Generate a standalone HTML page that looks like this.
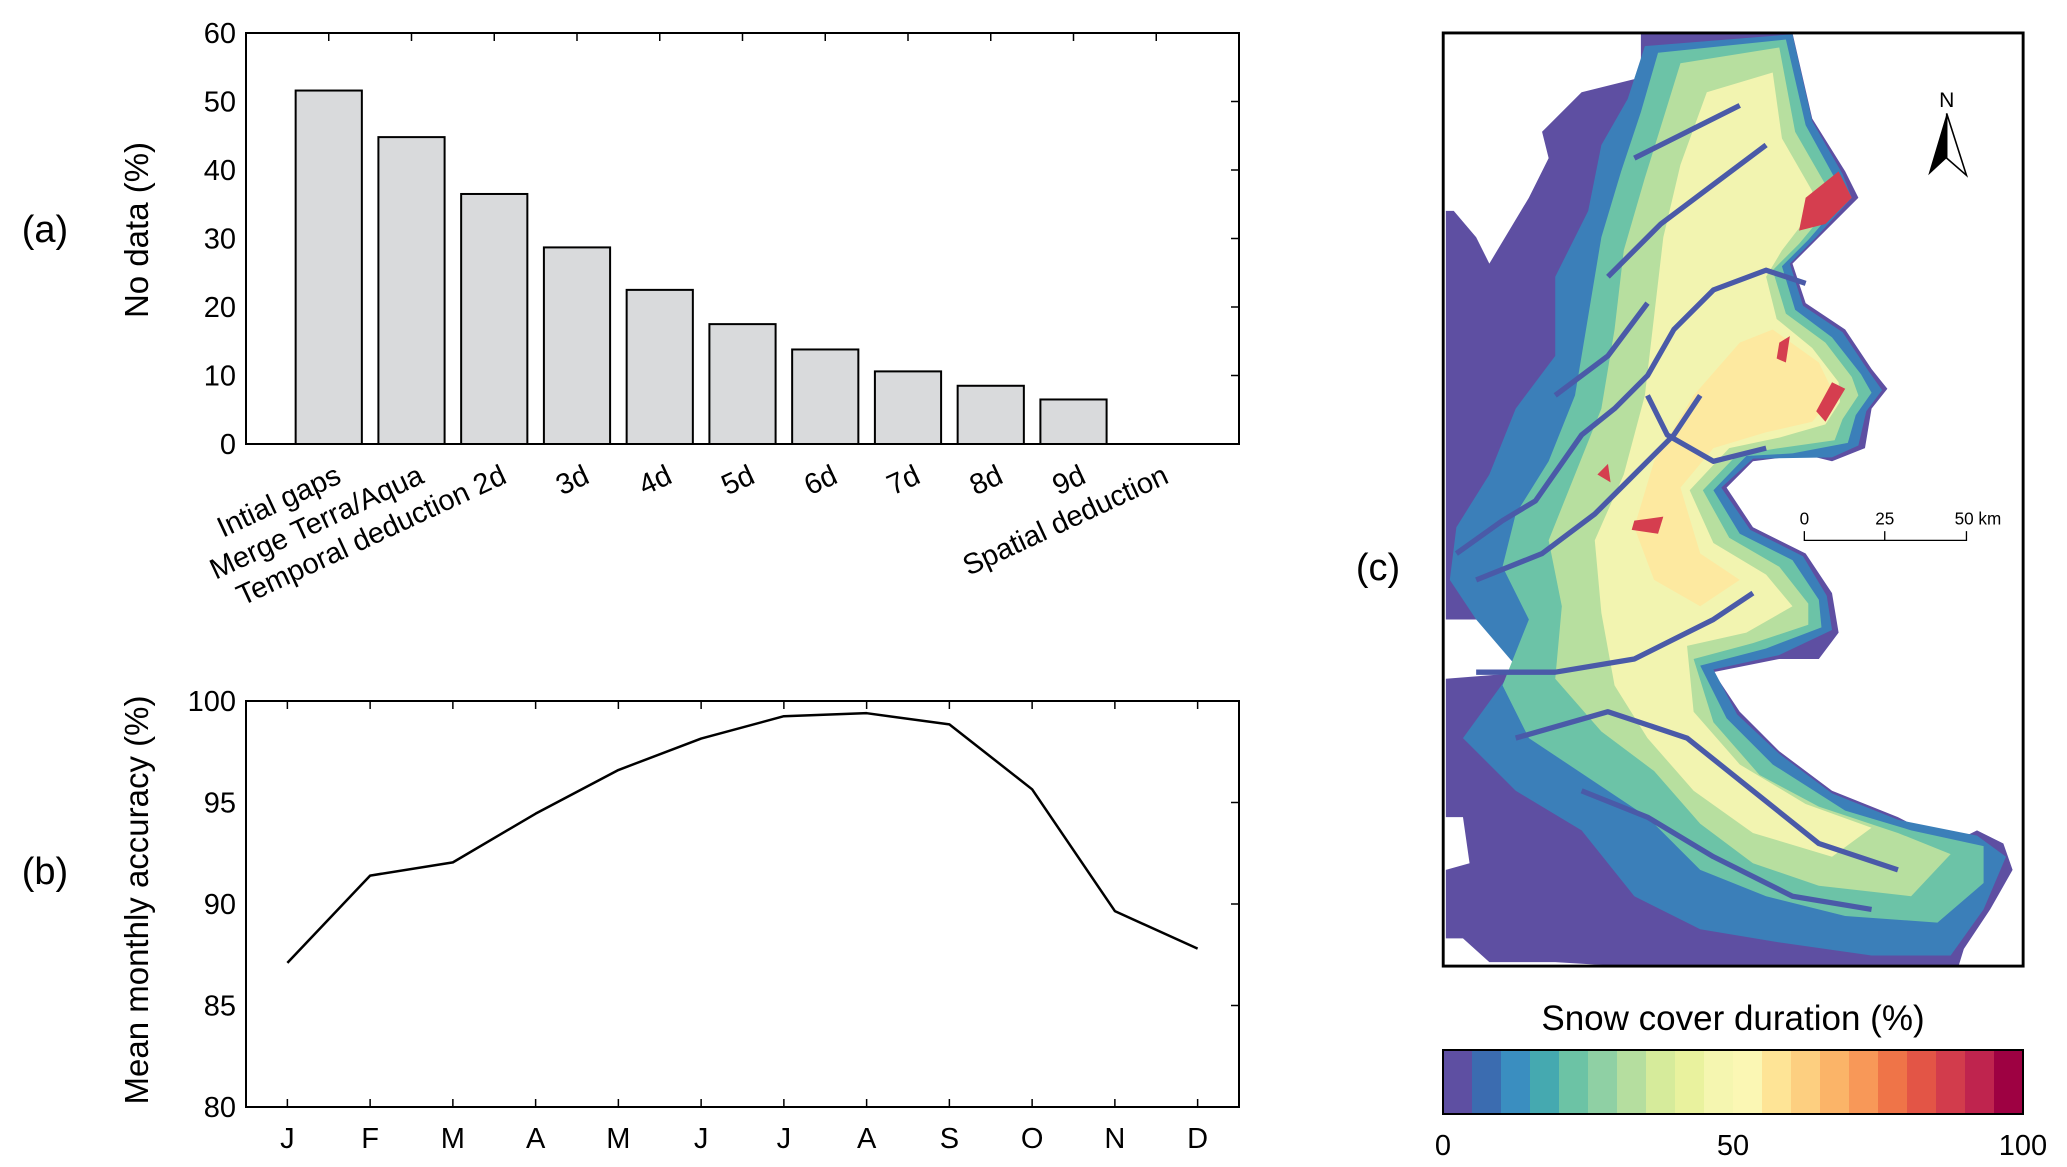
<!DOCTYPE html>
<html><head><meta charset="utf-8"><style>
body{margin:0;background:#fff;}
svg{display:block;font-family:"Liberation Sans Narrow","Liberation Sans",sans-serif;}
.w{font-family:"Liberation Sans",sans-serif;}
</style></head><body>
<svg id="fig" width="2067" height="1167" viewBox="0 0 2067 1167" xmlns="http://www.w3.org/2000/svg">
<g id="pa"></g>
<g id="pb"></g>
<g id="pc">
  <text class="w" x="1378" y="580" font-size="38" text-anchor="middle">(c)</text>
  <g transform="scale(1.318)">
    <polygon fill="#5e4fa2" points="1245,45 1245,25 1360,25 1375,90 1400,130 1410,150 1380,180 1360,200 1370,230 1400,250 1420,280 1432,295 1420,310 1415,340 1390,350 1370,345 1330,350 1310,370 1330,400 1370,420 1390,450 1395,480 1380,500 1350,500 1300,510 1320,540 1350,570 1390,600 1440,620 1480,640 1500,630 1520,640 1527,660 1510,690 1490,720 1486,733 1230,733 1180,730 1130,730 1110,712 1097,712 1097,660 1115,655 1110,620 1097,620 1097,515 1160,510 1170,490 1130,470 1097,470 1097,160 1103,160 1120,180 1130,200 1160,150 1175,120 1170,100 1200,70 1240,60"/>
    <polygon fill="#3b7fb9" points="1248,35 1360,26 1375,92 1398,132 1405,150 1378,180 1358,200 1368,232 1398,252 1418,282 1428,296 1416,312 1410,338 1390,347 1330,348 1306,370 1328,402 1368,422 1386,452 1390,478 1350,497 1300,508 1318,542 1350,572 1390,602 1440,622 1500,634 1522,650 1505,690 1480,725 1420,725 1350,715 1290,705 1240,680 1200,630 1150,600 1110,560 1150,505 1120,470 1100,440 1105,400 1130,360 1150,310 1180,270 1180,210 1205,160 1215,110 1235,75"/>
    <polygon fill="#6cc3a7" points="1258,40 1355,30 1370,95 1392,135 1398,152 1372,182 1352,202 1362,235 1390,256 1412,284 1420,298 1408,315 1402,336 1360,344 1325,346 1300,372 1320,405 1360,425 1380,455 1382,476 1340,492 1290,505 1310,545 1345,580 1400,615 1450,630 1505,642 1505,670 1470,700 1400,695 1340,680 1290,660 1250,620 1205,590 1160,560 1140,520 1160,470 1140,430 1150,390 1175,350 1195,300 1205,240 1215,180 1230,130 1245,85"/>
    <polygon fill="#b7df9f" points="1275,48 1350,36 1362,100 1385,140 1390,155 1365,185 1345,205 1355,238 1385,260 1405,286 1410,300 1398,318 1392,334 1350,340 1318,345 1292,372 1312,408 1350,430 1372,458 1372,474 1330,488 1285,500 1300,548 1335,588 1380,612 1440,632 1480,648 1450,680 1380,672 1330,655 1290,625 1255,585 1215,555 1180,515 1185,460 1175,410 1195,360 1215,310 1225,250 1232,190 1248,135 1262,90"/>
    <polygon fill="#f2f4b0" points="1295,70 1345,55 1352,105 1375,145 1375,160 1352,190 1340,210 1348,242 1375,264 1395,290 1396,305 1385,322 1350,332 1312,340 1282,372 1300,412 1340,436 1360,460 1325,480 1280,490 1285,540 1320,580 1370,610 1420,628 1390,650 1330,632 1285,600 1250,560 1225,520 1215,465 1210,410 1232,360 1248,300 1255,240 1262,180 1275,125"/>
    <polygon fill="#fde9a0" points="1345,250 1380,275 1392,300 1375,320 1340,328 1300,340 1275,370 1290,420 1320,440 1290,460 1255,440 1240,400 1255,350 1285,300 1320,260"/>
    <g fill="none" stroke="#4a5aa8" stroke-width="4" stroke-linejoin="round">
      <polyline points="1105,420 1140,395 1165,380 1200,330 1225,310 1250,285 1270,250 1300,220 1340,205 1370,215"/>
      <polyline points="1120,440 1170,420 1210,390 1240,360 1270,330 1290,300"/>
      <polyline points="1250,300 1265,330 1300,350 1340,340"/>
      <polyline points="1120,510 1180,510 1240,500 1300,470 1330,450"/>
      <polyline points="1150,560 1220,540 1280,560 1330,600 1380,640 1440,660"/>
      <polyline points="1200,600 1250,620 1300,650 1360,680 1420,690"/>
      <polyline points="1220,210 1260,170 1300,140 1340,110"/>
      <polyline points="1180,300 1220,270 1250,230"/>
      <polyline points="1240,120 1280,100 1320,80"/>
    </g>
    <g fill="#d53e4f">
      <polygon points="1370,150 1395,130 1405,150 1385,170 1365,175"/>
      <polygon points="1390,290 1400,295 1385,320 1378,312"/>
      <polygon points="1240,395 1262,392 1258,405 1238,402"/>
      <polygon points="1212,360 1220,352 1222,366"/>
      <polygon points="1350,260 1358,255 1355,275 1348,272"/>
    </g>
    <rect x="1095" y="25" width="440" height="708" fill="none" stroke="#000" stroke-width="2.2"/>
    <g>
      <text class="w" x="1477" y="81" font-size="16" text-anchor="middle">N</text>
      <polygon points="1477,86 1463,133 1477,120" fill="#000"/>
      <polygon points="1477,86 1492,133 1477,120" fill="#fff" stroke="#000" stroke-width="1.2"/>
    </g>
    <g font-size="13" class="w">
      <polyline points="1369,403 1369,410 1492,410 1492,403" fill="none" stroke="#000" stroke-width="1"/>
      <line x1="1430" y1="403" x2="1430" y2="410" stroke="#000"/>
      <text class="w" x="1369" y="398" text-anchor="middle">0</text>
      <text class="w" x="1430" y="398" text-anchor="middle">25</text>
      <text class="w" x="1483" y="398" text-anchor="start">50 km</text>
    </g>
  </g>
  <text class="w" x="1733" y="1030" font-size="35" text-anchor="middle">Snow cover duration (%)</text>
  <g id="cbar"></g>
</g>
</svg>
<script>
const NS="http://www.w3.org/2000/svg";
function mk(p,t,a,txt){const e=document.createElementNS(NS,t);for(const k in a)e.setAttribute(k,a[k]);if(txt!==undefined)e.textContent=txt;p.appendChild(e);return e;}

// ---- Panel A data ----
const catLabels=["Intial gaps","Merge Terra/Aqua","Temporal deduction 2d","3d","4d","5d","6d","7d","8d","9d","Spatial deduction"];
const noDataValues=[51.6,44.8,36.5,28.7,22.5,17.5,13.8,10.6,8.5,6.5,0];
const aTicks=[0,10,20,30,40,50,60];

// ---- Panel B data ----
const months=["J","F","M","A","M","J","J","A","S","O","N","D"];
const accuracy=[87.1,91.4,92.05,94.45,96.6,98.15,99.25,99.4,98.85,95.65,89.65,87.8];
const bTicks=[80,85,90,95,100];

// ---- colorbar ----
const cbColors=["#5e4fa2","#3b6cb0","#3a8ec0","#45a9b0","#6cc3a5","#8fd0a4","#b5de9f","#d6eb9b","#e9f29e","#f5f6b0","#fbf7b4","#fee496","#fdcf80","#fbb468","#f89858","#ef7448","#e35546","#d23c4c","#bf244e","#9e0142"];
const cbTicks=[0,50,100];

// Panel A
(function(){
  const g=document.getElementById('pa');
  const L=246,R=1239,T=33,B=444;
  const x=v=>L+(R-L)*v/12, y=v=>B-(B-T)*v/60;
  noDataValues.forEach((v,i)=>{
    const cx=x(i+1),w=(R-L)/12*0.8;
    const r=mk(g,'rect',{x:cx-w/2,y:y(v),width:w,height:B-y(v),fill:'#d9dadc',stroke:'#000','stroke-width':2});
    
    
    const t=mk(g,'text',{x:cx+14,y:482,'font-size':29,'text-anchor':'end',transform:`rotate(-25 ${cx+14} 482)`},catLabels[i]);
    
    
    mk(g,'line',{x1:cx,y1:T,x2:cx,y2:T+8,stroke:'#000','stroke-width':1.5});
  });
  aTicks.forEach(v=>{
    const t=mk(g,'text',{x:L-10,y:y(v)+10,'font-size':29,'text-anchor':'end'},v);
    
    
    mk(g,'line',{x1:R,y1:y(v),x2:R-8,y2:y(v),stroke:'#000','stroke-width':1.5});
  });
  const f=mk(g,'rect',{x:L,y:T,width:R-L,height:B-T,fill:'none',stroke:'#000','stroke-width':2});
  
  
  const yt=mk(g,'text',{class:'w',x:0,y:0,'font-size':33,'text-anchor':'middle',transform:'translate(148 230) rotate(-90)'},'No data (%)');
  
  
  const pl=mk(g,'text',{class:'w',x:45,y:242,'font-size':38,'text-anchor':'middle'},'(a)');
  
  
})();

// Panel B
(function(){
  const g=document.getElementById('pb');
  const L=246,R=1239,T=701,B=1107;
  const x=v=>L+(R-L)*v/12, y=v=>B-(B-T)*(v-80)/20;
  months.forEach((m,i)=>{
    const cx=x(i+0.5);
    mk(g,'line',{x1:cx,y1:T,x2:cx,y2:T+8,stroke:'#000','stroke-width':1.5});
    mk(g,'line',{x1:cx,y1:B,x2:cx,y2:B-8,stroke:'#000','stroke-width':1.5});
    const t=mk(g,'text',{x:cx,y:1148,'font-size':29,'text-anchor':'middle'},m);
    
    
  });
  bTicks.forEach(v=>{
    mk(g,'line',{x1:R,y1:y(v),x2:R-8,y2:y(v),stroke:'#000','stroke-width':1.5});
    const t=mk(g,'text',{x:L-10,y:y(v)+10,'font-size':29,'text-anchor':'end'},v);
    
    
  });
  const pts=accuracy.map((v,i)=>x(i+0.5)+','+y(v)).join(' ');
  const ln=mk(g,'polyline',{points:pts,fill:'none',stroke:'#000','stroke-width':2.5,'stroke-linejoin':'round'});
  
  
  const f=mk(g,'rect',{x:L,y:T,width:R-L,height:B-T,fill:'none',stroke:'#000','stroke-width':2});
  
  
  const yt=mk(g,'text',{class:'w',x:0,y:0,'font-size':33,'text-anchor':'middle',transform:'translate(148 900) rotate(-90)'},'Mean monthly accuracy (%)');
  
  
  const pl=mk(g,'text',{class:'w',x:45,y:884,'font-size':38,'text-anchor':'middle'},'(b)');
  
  
})();

// Colorbar
(function(){
  const g=document.getElementById('cbar');
  const L=1443,R=2023,T=1050,B=1114,n=cbColors.length,w=(R-L)/n;
  cbColors.forEach((c,i)=>{
    const r=mk(g,'rect',{x:L+i*w,y:T,width:w+0.5,height:B-T,fill:c});
    
    
  });
  mk(g,'rect',{x:L,y:T,width:R-L,height:B-T,fill:'none',stroke:'#000','stroke-width':2});
  cbTicks.forEach(v=>{
    const t=mk(g,'text',{class:'w',x:L+(R-L)*v/100,y:1155,'font-size':29,'text-anchor':'middle'},v);
    
    
  });
})();
</script>
</body></html>
